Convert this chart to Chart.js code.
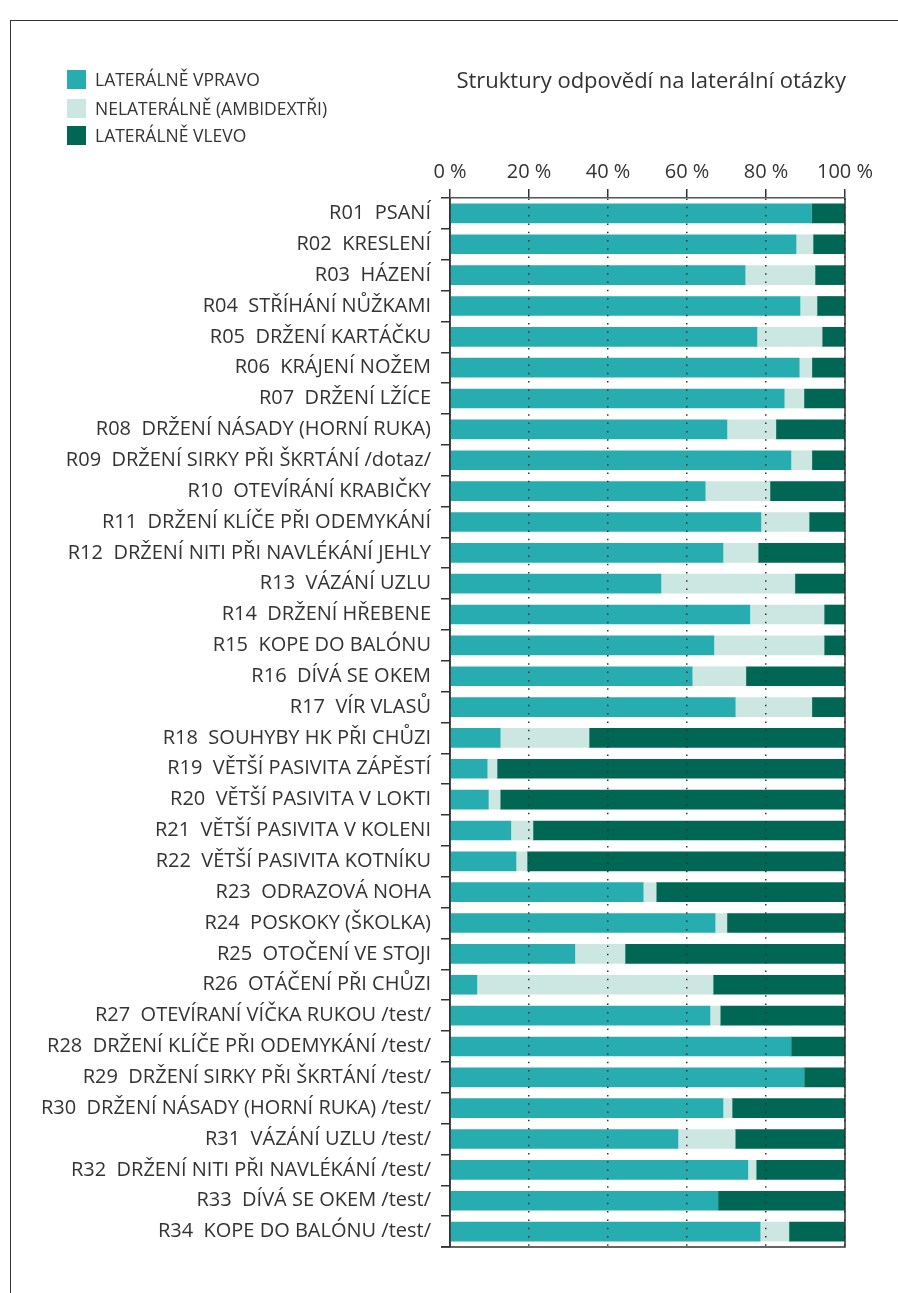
<!DOCTYPE html>
<html>
<head>
<meta charset="utf-8">
<script src="https://cdn.jsdelivr.net/npm/chart.js@4.4.1/dist/chart.umd.min.js"></script>
<style>
    body { margin: 0; background: #fff; font-family: 'Open Sans', sans-serif; color: #333; }
    #wrap { position: relative; width: 898px; height: 1293px; overflow: hidden; }
    #frame { position: absolute; left: 10px; top: 20px; width: 1000px; height: 1400px;
             border-left: 1px solid #333; border-top: 1px solid #333; }
    #chart-canvas { position: absolute; left: 0; top: 0; }
    .legend-item { position: absolute; left: 67px; height: 19px; line-height: 19px; font-size: 17.5px; }
    .legend-item span { display: inline-block; width: 19px; height: 19px; vertical-align: top; margin-right: 9px; }
    #title { position: absolute; right: 52px; top: 64px; font-size: 22px; line-height: 30px; }
</style>
</head>
<body>
<div id="wrap">
    <div id="frame"></div>
    <canvas id="chart-canvas" width="898" height="1293"></canvas>
    <div class="legend-item" style="top:70px"><span style="background:#27adb0"></span>LATERÁLNĚ VPRAVO</div>
    <div class="legend-item" style="top:99px"><span style="background:#cce7e2"></span>NELATERÁLNĚ (AMBIDEXTŘI)</div>
    <div class="legend-item" style="top:126px"><span style="background:#006754"></span>LATERÁLNĚ VLEVO</div>
    <div id="title">Struktury odpovědí na laterální otázky</div>
</div>
<script>
// categories (questions)
const categories = [
    'R01  PSANÍ', 'R02  KRESLENÍ', 'R03  HÁZENÍ', 'R04  STŘÍHÁNÍ NŮŽKAMI',
    'R05  DRŽENÍ KARTÁČKU', 'R06  KRÁJENÍ NOŽEM', 'R07  DRŽENÍ LŽÍCE',
    'R08  DRŽENÍ NÁSADY (HORNÍ RUKA)', 'R09  DRŽENÍ SIRKY PŘI ŠKRTÁNÍ /dotaz/',
    'R10  OTEVÍRÁNÍ KRABIČKY', 'R11  DRŽENÍ KLÍČE PŘI ODEMYKÁNÍ',
    'R12  DRŽENÍ NITI PŘI NAVLÉKÁNÍ JEHLY', 'R13  VÁZÁNÍ UZLU', 'R14  DRŽENÍ HŘEBENE',
    'R15  KOPE DO BALÓNU', 'R16  DÍVÁ SE OKEM', 'R17  VÍR VLASŮ',
    'R18  SOUHYBY HK PŘI CHŮZI', 'R19  VĚTŠÍ PASIVITA ZÁPĚSTÍ', 'R20  VĚTŠÍ PASIVITA V LOKTI',
    'R21  VĚTŠÍ PASIVITA V KOLENI', 'R22  VĚTŠÍ PASIVITA KOTNÍKU', 'R23  ODRAZOVÁ NOHA',
    'R24  POSKOKY (ŠKOLKA)', 'R25  OTOČENÍ VE STOJI', 'R26  OTÁČENÍ PŘI CHŮZI',
    'R27  OTEVÍRANÍ VÍČKA RUKOU /test/', 'R28  DRŽENÍ KLÍČE PŘI ODEMYKÁNÍ /test/',
    'R29  DRŽENÍ SIRKY PŘI ŠKRTÁNÍ /test/', 'R30  DRŽENÍ NÁSADY (HORNÍ RUKA) /test/',
    'R31  VÁZÁNÍ UZLU /test/', 'R32  DRŽENÍ NITI PŘI NAVLÉKÁNÍ /test/',
    'R33  DÍVÁ SE OKEM /test/', 'R34  KOPE DO BALÓNU /test/'
];

// shares in %
const rightShare = [91.5, 87.6, 74.7, 88.6, 77.7, 88.4, 84.6, 70.1, 86.3, 64.6,
                    78.7, 69.1, 53.4, 75.9, 66.8, 61.3, 72.2, 12.7, 9.4, 9.7,
                    15.4, 16.7, 48.9, 67.1, 31.6, 6.8, 65.8, 86.3, 89.6, 69.1,
                    57.7, 75.4, 67.8, 78.5];
const ambiShare  = [0, 4.3, 17.7, 4.3, 16.5, 3.2, 5.0, 12.4, 5.3, 16.4,
                    12.2, 8.9, 33.9, 18.8, 27.9, 13.6, 19.4, 22.5, 2.5, 3.0,
                    5.6, 2.8, 3.3, 3.0, 12.7, 59.8, 2.6, 0, 0, 2.3,
                    14.5, 2.1, 0, 7.3];
const leftShare  = [8.5, 8.1, 7.6, 7.1, 5.8, 8.4, 10.4, 17.5, 8.4, 19.0,
                    9.1, 22.0, 12.7, 5.3, 5.3, 25.1, 8.4, 64.8, 88.1, 87.3,
                    79.0, 80.5, 47.8, 29.9, 55.7, 33.4, 31.6, 13.7, 10.4, 28.6,
                    27.8, 22.5, 32.2, 14.2];

const tickValues = [0, 20, 40, 60, 80, 100];

// solid frame on the right and bottom of the plot
const frameLines = {
    id: 'frameLines',
    afterDraw(chart) {
        const a = chart.chartArea;
        const ctx = chart.ctx;
        ctx.save();
        ctx.strokeStyle = '#333';
        ctx.lineWidth = 1.5;
        ctx.beginPath();
        ctx.moveTo(a.left, a.top);
        ctx.lineTo(a.left, a.bottom);
        ctx.moveTo(a.right, a.top);
        ctx.lineTo(a.right, a.bottom);
        ctx.lineTo(a.left - 9, a.bottom);
        ctx.stroke();
        ctx.restore();
    }
};

const ctx = document.getElementById('chart-canvas').getContext('2d');
new Chart(ctx, {
    type: 'bar',
    data: {
        labels: categories,
        datasets: [
            { label: 'LATERÁLNĚ VPRAVO', data: rightShare, backgroundColor: '#27adb0' },
            { label: 'NELATERÁLNĚ (AMBIDEXTŘI)', data: ambiShare, backgroundColor: '#cce7e2' },
            { label: 'LATERÁLNĚ VLEVO', data: leftShare, backgroundColor: '#006754' }
        ]
    },
    options: {
        indexAxis: 'y',
        responsive: false,
        animation: false,
        layout: { padding: { top: 0, right: 53, bottom: 46, left: 0 } },
        datasets: { bar: { barThickness: 19, borderWidth: 0 } },
        plugins: { legend: { display: false }, tooltip: { enabled: false } },
        scales: {
            x: {
                position: 'top',
                stacked: true,
                min: 0,
                max: 100,
                afterBuildTicks: scale => { scale.ticks = tickValues.map(v => ({ value: v })); },
                afterFit: scale => { scale.height = 198; },
                ticks: {
                    color: '#333',
                    font: { family: 'Open Sans', size: 20 },
                    padding: 5,
                    callback: v => v + ' %'
                },
                grid: {
                    z: 1,
                    color: '#333',
                    lineWidth: 1.5,
                    tickColor: '#333',
                    tickLength: 9,
                    drawTicks: true
                },
                border: { color: '#555', width: 1.5, dash: [1.5, 6.8], z: 1 }
            },
            y: {
                stacked: true,
                afterFit: scale => { scale.width = 450; },
                ticks: {
                    color: '#333',
                    font: { family: 'Open Sans', size: 20 },
                    padding: 10,
                    autoSkip: false
                },
                grid: {
                    offset: true,
                    drawOnChartArea: false,
                    tickColor: '#333',
                    tickLength: 9,
                    lineWidth: 1.5
                },
                border: { color: '#333', width: 1.5 }
            }
        }
    },
    plugins: [frameLines]
});
</script>
</body>
</html>
